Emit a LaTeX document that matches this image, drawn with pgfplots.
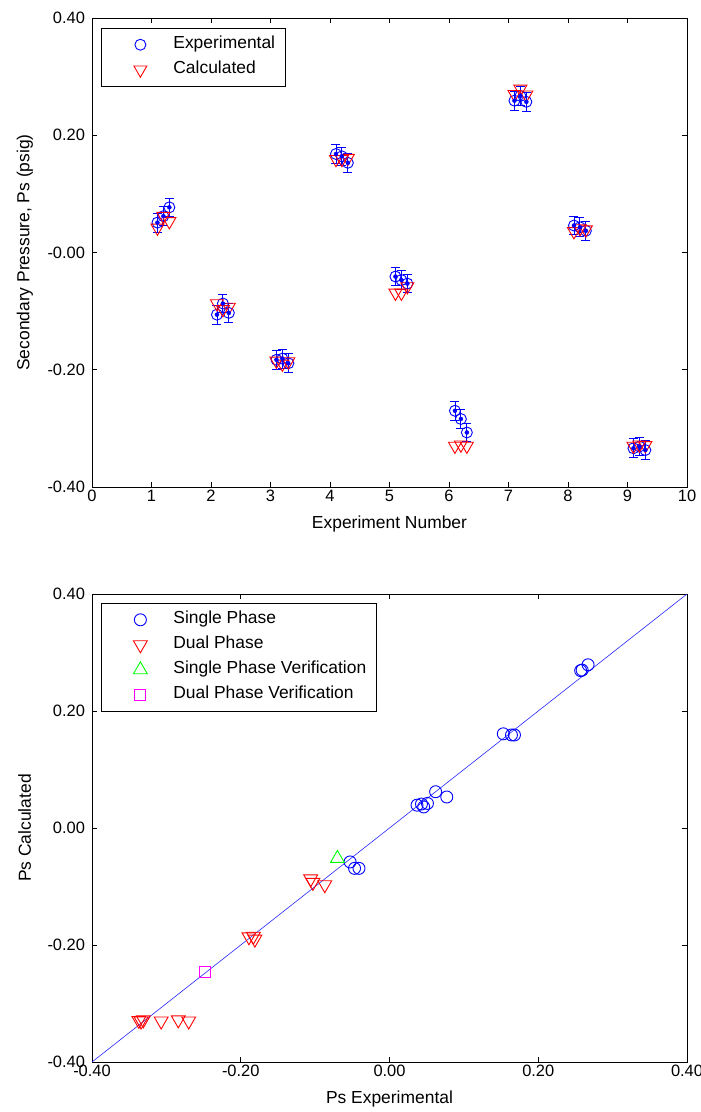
\documentclass[border=0pt]{standalone}
\usepackage{fontspec}
\setmainfont{Liberation Sans}
\usepackage{pgfplots}
\usepackage{pgfplotstable}
\pgfplotsset{compat=1.18}

\definecolor{pgreen}{rgb}{0,1,0}
\definecolor{pmagenta}{rgb}{1,0,1}

% Measured secondary pressure (psig) with its uncertainty
\pgfplotstableread{
x   y      e
1.1  0.051 0.016
1.2  0.062 0.016
1.3  0.077 0.016
2.1 -0.106 0.016
2.2 -0.087 0.016
2.3 -0.103 0.016
3.1 -0.183 0.016
3.2 -0.181 0.016
3.3 -0.189 0.016
4.1  0.168 0.016
4.2  0.164 0.016
4.3  0.153 0.016
5.1 -0.041 0.016
5.2 -0.047 0.016
5.3 -0.053 0.016
6.1 -0.270 0.016
6.2 -0.284 0.016
6.3 -0.307 0.016
7.1  0.259 0.016
7.2  0.267 0.016
7.3  0.257 0.016
8.1  0.046 0.016
8.2  0.043 0.016
8.3  0.037 0.016
9.1 -0.334 0.016
9.2 -0.331 0.016
9.3 -0.337 0.016
}\expdata

% Model prediction for the same runs
\pgfplotstableread{
x   y
1.1  0.042
1.2  0.062
1.3  0.053
2.1 -0.087
2.2 -0.097
2.3 -0.093
3.1 -0.185
3.2 -0.190
3.3 -0.186
4.1  0.159
4.2  0.159
4.3  0.161
5.1 -0.069
5.2 -0.069
5.3 -0.058
6.1 -0.330
6.2 -0.328
6.3 -0.330
7.1  0.270
7.2  0.279
7.3  0.269
8.1  0.036
8.2  0.041
8.3  0.039
9.1 -0.330
9.2 -0.328
9.3 -0.329
}\calcdata

% Parity data: experimental vs calculated
\pgfplotstableread{
xe     yc
 0.051  0.042
 0.062  0.062
 0.077  0.053
 0.168  0.159
 0.164  0.159
 0.153  0.161
-0.041 -0.069
-0.047 -0.069
-0.053 -0.058
 0.259  0.270
 0.267  0.279
 0.257  0.269
 0.046  0.036
 0.043  0.041
 0.037  0.039
}\singlephase

\pgfplotstableread{
xe     yc
-0.106 -0.087
-0.087 -0.097
-0.103 -0.093
-0.183 -0.185
-0.181 -0.190
-0.189 -0.186
-0.270 -0.330
-0.284 -0.328
-0.307 -0.330
-0.334 -0.330
-0.331 -0.328
-0.337 -0.329
}\dualphase

\pgfplotstableread{
xe     yc
-0.070 -0.052
}\singleverif

\pgfplotstableread{
xe     yc
-0.248 -0.246
}\dualverif

\pgfplotsset{
  mlstyle/.style={
    scale only axis, width=595bp,
    axis line style={black, line width=0.8bp},
    tick align=inside, major tick length=5bp,
    every tick/.style={black, line width=0.8bp},
    tick label style={font=\fontsize{16.5}{18}\selectfont},
    yticklabel style={xshift=-3.5bp},
    every axis y label/.style={at={(axis description cs:-0.113,0.5)}, rotate=90,
      anchor=center, font=\fontsize{17.5}{20}\selectfont},
    every axis x label/.style={at={(axis description cs:0.5,-0.078)},
      anchor=center, font=\fontsize{17.5}{20}\selectfont},
    legend cell align=left,
    legend style={font=\fontsize{17.5}{20}\selectfont, draw=black, line width=0.8bp,
      fill=white, inner xsep=10bp, inner ysep=8.5bp, row sep=9bp,
      nodes={inner sep=0pt, text height=12bp, text depth=4bp, anchor=west},
      anchor=north west},
    legend image code/.code={%
      \path[draw=none, fill=none] (0bp,-1bp) rectangle (62bp,1bp);
      \draw[##1] plot coordinates {(29bp,0bp)};},
  },
}

\begin{document}
\begin{tikzpicture}
\path[use as bounding box] (0,0) rectangle (701bp,1112bp);

% Secondary pressure per experiment
\begin{axis}[mlstyle, height=469bp, at={(92bp,625bp)}, anchor=south west,
  xmin=0, xmax=10, ymin=-0.4, ymax=0.4,
  xtick={0,1,2,3,4,5,6,7,8,9,10},
  xticklabels={0,1,2,3,4,5,6,7,8,9,10},
  ytick={-0.4,-0.2,0,0.2,0.4},
  yticklabels={-0.40,-0.20,-0.00,0.20,0.40},
  xlabel={Experiment Number},
  ylabel={Secondary Pressure, Ps (psig)},
  legend style={at={(axis description cs:0.0151,0.979)}},
]
\addplot[only marks, blue, mark=o, mark size=5.5bp, mark options={line width=0.9bp}]
  table[x=x, y=y] {\expdata};
\addlegendentry{Experimental}
\addplot[only marks, red, mark=triangle, mark size=7.5bp, mark options={rotate=180, line width=0.9bp}]
  table[x=x, y=y] {\calcdata};
\addlegendentry{Calculated}
\addplot[forget plot, only marks, blue, mark=*, mark size=2bp,
  error bars/.cd, y dir=both, y explicit,
  error bar style={line width=0.9bp, blue},
  error mark options={rotate=90, blue, mark size=4.5bp, line width=0.9bp}]
  table[x=x, y=y, y error=e] {\expdata};
\end{axis}

% Parity plot
\begin{axis}[mlstyle, height=468bp, at={(92bp,50bp)}, anchor=south west,
  xmin=-0.4, xmax=0.4, ymin=-0.4, ymax=0.4,
  xtick={-0.4,-0.2,0,0.2,0.4},
  xticklabels={-0.40,-0.20,0.00,0.20,0.40},
  ytick={-0.4,-0.2,0,0.2,0.4},
  yticklabels={-0.40,-0.20,0.00,0.20,0.40},
  xlabel={Ps Experimental},
  ylabel={Ps Calculated},
  legend style={at={(axis description cs:0.0151,0.981)}},
]
\addplot[only marks, blue, mark=o, mark size=6bp, mark options={line width=0.9bp}]
  table[x=xe, y=yc] {\singlephase};
\addlegendentry{Single Phase}
\addplot[only marks, red, mark=triangle, mark size=8bp, mark options={rotate=180, line width=0.9bp}]
  table[x=xe, y=yc] {\dualphase};
\addlegendentry{Dual Phase}
\addplot[only marks, pgreen, mark=triangle, mark size=8bp, mark options={line width=0.9bp}]
  table[x=xe, y=yc] {\singleverif};
\addlegendentry{Single Phase Verification}
\addplot[only marks, pmagenta, mark=square, mark size=5.5bp, mark options={line width=0.9bp}]
  table[x=xe, y=yc] {\dualverif};
\addlegendentry{Dual Phase Verification}
\addplot[forget plot, blue!85, line width=0.6bp] coordinates {(-0.4,-0.4) (0.4,0.4)};
\end{axis}
\end{tikzpicture}
\end{document}
